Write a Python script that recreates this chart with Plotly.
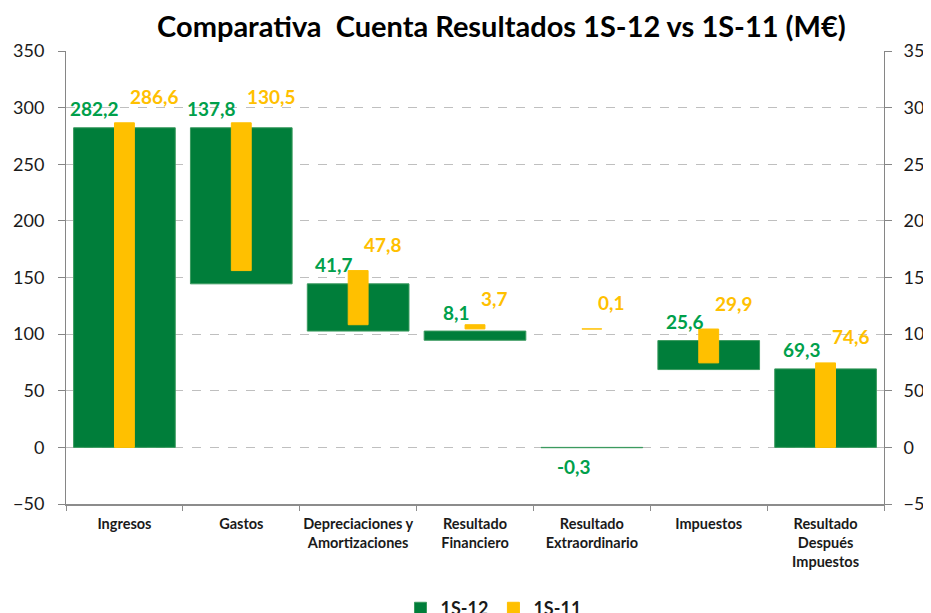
import plotly.graph_objects as go

# categories and values (M€) as labelled in the chart
categories = ["Ingresos", "Gastos", "Depreciaciones y<br>Amortizaciones",
              "Resultado<br>Financiero", "Resultado<br>Extraordinario",
              "Impuestos", "Resultado<br>Después<br>Impuestos"]
values_1s12 = [282.2, 137.8, 41.7, 8.1, -0.3, 25.6, 69.3]
values_1s11 = [286.6, 130.5, 47.8, 3.7, 0.1, 29.9, 74.6]
series_names = ["1S-12", "1S-11"]
y_ticks = [-50, 0, 50, 100, 150, 200, 250, 300, 350]

GREEN = "#007E3A"
GREEN_TXT = "#00A04B"
YELLOW = "#FFC000"
FONT = "Lato"


def waterfall(vals):
    # first and last are totals from zero, the middle ones are deductions
    bases, heights = [], []
    running = vals[0]
    bases.append(0)
    heights.append(vals[0])
    for v in vals[1:-1]:
        running -= abs(v)
        if v >= 0:
            bases.append(running)
            heights.append(v)
        else:
            # negative values stack down from zero (as in the original sheet)
            bases.append(0)
            heights.append(v)
    bases.append(0)
    heights.append(vals[-1])
    return bases, heights


def fmt(v):
    return f"{v:.1f}".replace(".", ",")


b12, h12 = waterfall(values_1s12)
b11, h11 = waterfall(values_1s11)

fig = go.Figure()
fig.add_trace(go.Bar(x=categories, y=h12, base=b12, name=series_names[0],
                     width=0.87, marker=dict(color=GREEN, line=dict(color="#3A9A5E", width=1))))
fig.add_trace(go.Bar(x=categories, y=h11, base=b11, name=series_names[1],
                     width=0.17, marker=dict(color=YELLOW, line=dict(color=YELLOW, width=1))))
# dummy trace to carry the right-hand axis
fig.add_trace(go.Scatter(x=categories, y=h12, yaxis="y2", mode="markers",
                         marker=dict(opacity=0), showlegend=False, hoverinfo="skip"))

for cat, v, b, h in zip(categories, values_1s12, b12, h12):
    if h >= 0:
        fig.add_annotation(x=cat, y=b + h, text=fmt(v), showarrow=False,
                           xanchor="right", yanchor="middle", xshift=-3, yshift=19,
                           font=dict(family=FONT, size=19, color=GREEN_TXT, weight="bold"))
    else:
        fig.add_annotation(x=cat, y=b + h, text=fmt(v), showarrow=False,
                           xanchor="right", yanchor="middle", xshift=1, yshift=-19,
                           font=dict(family=FONT, size=19, color=GREEN_TXT, weight="bold"))

for cat, v, b, h in zip(categories, values_1s11, b11, h11):
    fig.add_annotation(x=cat, y=b + h, text=fmt(v), showarrow=False,
                       xanchor="left", yanchor="middle", xshift=4, yshift=26,
                       font=dict(family=FONT, size=19, color=YELLOW, weight="bold"))

axis_common = dict(range=[-50, 350], tickvals=y_ticks, showline=True, linecolor="#868686",
                   linewidth=1, ticks="outside", ticklen=7, tickcolor="#868686",
                   tickfont=dict(family=FONT, size=18, color="#1A1A1A"), zeroline=False,
                   automargin=False)

# the page body adds 8px around the figure, so margins are set 8px smaller on top/left
fig.update_layout(
    width=931, height=613,
    margin=dict(l=58, r=55, t=43, b=117, autoexpand=False),
    plot_bgcolor="white", paper_bgcolor="white",
    barmode="overlay",
    title=dict(text="Comparativa  Cuenta Resultados 1S-12 vs 1S-11 (M€)",
               x=0.53, xref="container", xanchor="center",
               y=0.969, yref="container", yanchor="middle",
               font=dict(family=FONT, size=29, color="black", weight="bold")),
    xaxis=dict(type="category", showline=True, linecolor="#8C8C8C", linewidth=2,
               ticks="outside", tickson="boundaries", ticklen=5, tickcolor="#8C8C8C",
               tickangle=0, automargin=False, ticklabelstandoff=6,
               tickfont=dict(family=FONT, size=14.5, color="#1A1A1A", weight="bold"),
               showgrid=False),
    yaxis=dict(**axis_common, showgrid=True, gridcolor="#BFBFBF", griddash="dash",
               gridwidth=1, ticklabelstandoff=10),
    yaxis2=dict(**axis_common, overlaying="y", side="right", showgrid=False,
                ticklabelstandoff=8),
    legend=dict(orientation="h", x=0.5226, xanchor="center", y=-0.19, yanchor="top",
                font=dict(family=FONT, size=18, color="#1A1A1A", weight="bold"),
                itemwidth=30, traceorder="normal"),
    showlegend=True,
)

fig.write_html("out.html")
